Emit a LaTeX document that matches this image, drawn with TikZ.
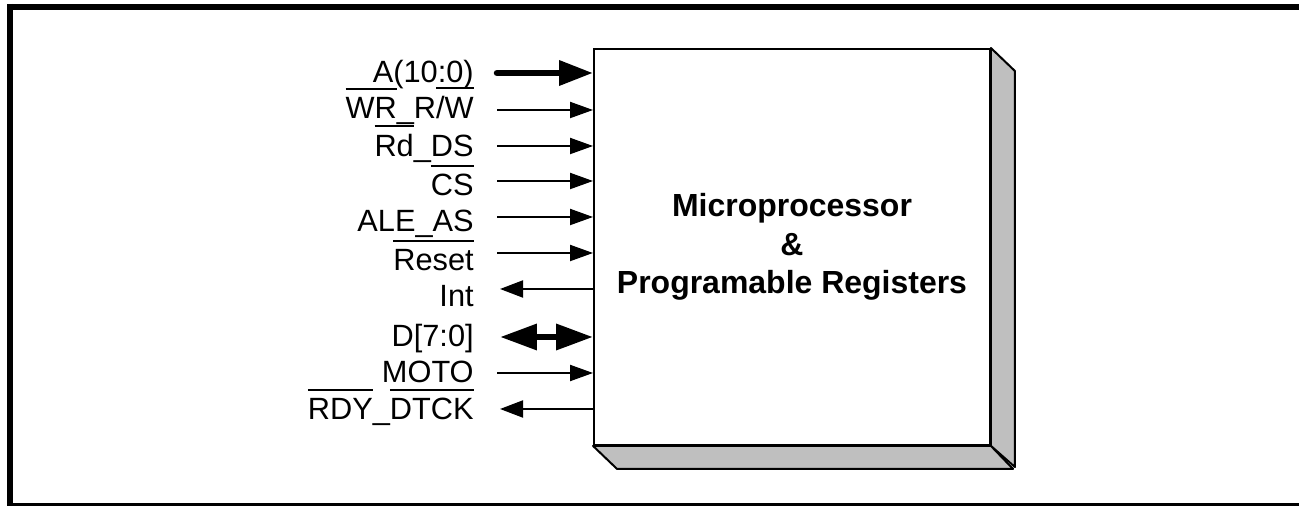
\documentclass[tikz,border=0pt]{standalone}
\usepackage{fontspec}
\setmainfont{Liberation Sans}
\usetikzlibrary{arrows.meta}

% overlined signal name (active low)
\newcommand{\ovl}[1]{\leavevmode\vbox{\hrule height 1.1pt\kern 4.3pt\hbox{#1}}}

\tikzset{
  siglabel/.style={anchor=base east, inner sep=0pt, font=\fontsize{17.5}{21}\selectfont},
  sig/.style={line width=0.04cm, -{Triangle[length=0.46cm, width=0.32cm]}},
  sigout/.style={line width=0.04cm, {Triangle[length=0.46cm, width=0.34cm]}-},
  bus/.style={line width=0.13cm, line cap=round, -{Triangle[length=0.68cm, width=0.48cm]}},
  bidibus/.style={line width=0.13cm, {Triangle[length=0.74cm, width=0.5cm]}-{Triangle[length=0.74cm, width=0.5cm]}},
  face/.style={draw, line width=0.04cm, fill=black!25, line join=round}
}

\begin{document}
\begin{tikzpicture}[x=0.02cm, y=-0.02cm]
    \useasboundingbox (0,0) rectangle (1299,506);

    % frame
    \draw[line width=0.12cm] (7,7) -- (1299,7);
    \draw[line width=0.11cm] (10,4) -- (10,506);
    \draw[line width=0.06cm] (7,505) -- (1299,505);

    % the block
    \node[draw, line width=0.04cm, minimum width=7.92cm, minimum height=7.92cm, inner sep=0pt,
          align=center, font=\bfseries\fontsize{18.2}{21.8}\selectfont] (cpu) at (792,247)
          {Microprocessor\\ \&\\ Programable Registers};
    \filldraw[face] (cpu.north east) -- ++(24,23) -- ++(0,396) -- (cpu.south east) -- cycle;
    \filldraw[face] (cpu.south west) -- ++(24,23) -- ++(396,0) -- (cpu.south east) -- cycle;

    % signal names
    \node[siglabel] (lA)    at (474,83)  {A(10:0)};
    \node[siglabel] (lWR)   at (474,119) {\ovl{WR}\_R\ovl{/W}};
    \node[siglabel] (lRd)   at (474,157) {\ovl{Rd}\_DS};
    \node[siglabel] (lCS)   at (474,196) {\ovl{CS}};
    \node[siglabel] (lALE)  at (474,232) {ALE\_AS};
    \node[siglabel] (lRst)  at (474,271) {\ovl{Reset}};
    \node[siglabel] (lInt)  at (474,307) {Int};
    \node[siglabel] (lD)    at (474,347) {D[7:0]};
    \node[siglabel] (lMoto) at (474,383) {MOTO};
    \node[siglabel] (lRdy)  at (474,420) {\ovl{RDY}\_\ovl{DTCK}};

    % pin ends
    \coordinate (sA)    at (497,73);
    \coordinate (sWR)   at (497,110);
    \coordinate (sRd)   at (497,146);
    \coordinate (sCS)   at (497,181);
    \coordinate (sALE)  at (497,217);
    \coordinate (sRst)  at (497,253);
    \coordinate (sInt)  at (500,289);
    \coordinate (sD)    at (500,337);
    \coordinate (sMoto) at (497,373);
    \coordinate (sRdy)  at (500,409);

    \draw[bus]     (sA)    -- (sA -| cpu.west);
    \draw[sig]     (sWR)   -- (sWR -| cpu.west);
    \draw[sig]     (sRd)   -- (sRd -| cpu.west);
    \draw[sig]     (sCS)   -- (sCS -| cpu.west);
    \draw[sig]     (sALE)  -- (sALE -| cpu.west);
    \draw[sig]     (sRst)  -- (sRst -| cpu.west);
    \draw[sigout]  (sInt)  -- (sInt -| cpu.west);
    \draw[bidibus] (sD)    -- (sD -| cpu.west);
    \draw[sig]     (sMoto) -- (sMoto -| cpu.west);
    \draw[sigout]  (sRdy)  -- (sRdy -| cpu.west);
\end{tikzpicture}
\end{document}
